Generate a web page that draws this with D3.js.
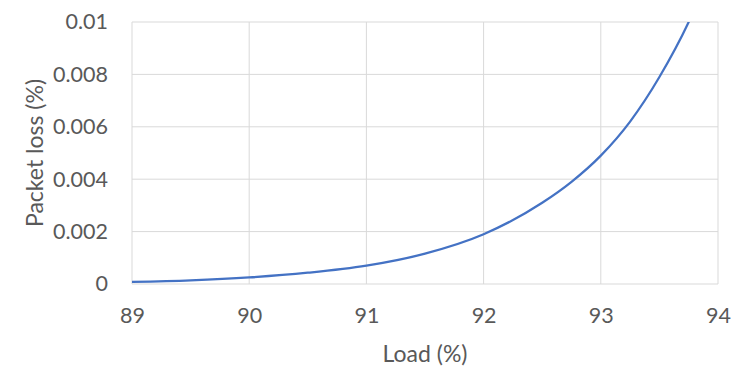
<!DOCTYPE html>
<html>
<head>
<meta charset="utf-8">
<script src="https://cdn.jsdelivr.net/npm/d3@7"></script>
<style>
  body { margin: 0; background: #fff; }
  text { font-family: Lato, "Open Sans", sans-serif; fill: #595959; }
</style>
</head>
<body>
<div class="container"></div>
<script>
// load (%) vs packet loss (%)
const load = [89, 89.5, 90, 90.5, 91, 91.5, 92, 92.5, 92.75, 93, 93.25, 93.5, 93.75, 93.85];
const loss = [0.00008, 0.00014, 0.00025, 0.00043, 0.0007, 0.00116, 0.0019, 0.0031, 0.0039, 0.0049, 0.0062, 0.0079, 0.0100, 0.0110];
const xTicks = [89, 90, 91, 92, 93, 94];
const yTicks = [0, 0.002, 0.004, 0.006, 0.008, 0.01];

const width = 747, height = 384;
const margin = {top: 22, right: 29, bottom: 100, left: 132};

const svg = d3.select('.container')
  .append('svg')
  .attr('width', width)
  .attr('height', height);

const x = d3.scaleLinear().domain([89, 94]).range([margin.left, width - margin.right]);
const y = d3.scaleLinear().domain([0, 0.01]).range([height - margin.bottom, margin.top]);

// gridlines
svg.append('g')
  .selectAll('line')
  .data(xTicks)
  .join('line')
  .attr('x1', d => x(d)).attr('x2', d => x(d))
  .attr('y1', y(0)).attr('y2', y(0.01))
  .attr('stroke', '#d9d9d9').attr('stroke-width', 1);

svg.append('g')
  .selectAll('line')
  .data(yTicks)
  .join('line')
  .attr('x1', x(89)).attr('x2', x(94))
  .attr('y1', d => y(d)).attr('y2', d => y(d))
  .attr('stroke', '#d9d9d9').attr('stroke-width', 1);

// clip so the curve stops at the top of the plot
svg.append('clipPath').attr('id', 'plot')
  .append('rect')
  .attr('x', x(89)).attr('y', y(0.01))
  .attr('width', x(94) - x(89)).attr('height', y(0) - y(0.01));

const line = d3.line()
  .x((d, i) => x(load[i]))
  .y(d => y(d))
  .curve(d3.curveMonotoneX);

svg.append('path')
  .datum(loss)
  .attr('clip-path', 'url(#plot)')
  .attr('fill', 'none')
  .attr('stroke', '#4472c4')
  .attr('stroke-width', 2.25)
  .attr('d', line);

// axis labels
const xAxis = svg.append('g')
  .attr('transform', `translate(0,${y(0)})`)
  .call(d3.axisBottom(x).tickValues(xTicks).tickSize(0).tickPadding(24).tickFormat(d3.format('d')));
xAxis.select('.domain').remove();
xAxis.selectAll('text').attr('font-size', 21.5).attr('font-family', 'Lato, sans-serif').attr('fill', '#595959');

const yAxis = svg.append('g')
  .attr('transform', `translate(${x(89)},0)`)
  .call(d3.axisLeft(y).tickValues(yTicks).tickSize(0).tickPadding(24).tickFormat(d => d === 0 ? '0' : String(+d.toFixed(3))));
yAxis.select('.domain').remove();
yAxis.selectAll('text').attr('font-size', 21.5).attr('font-family', 'Lato, sans-serif').attr('fill', '#595959');

svg.append('text')
  .attr('x', (x(89) + x(94)) / 2)
  .attr('y', 362)
  .attr('text-anchor', 'middle')
  .attr('font-size', 23)
  .text('Load (%)');

svg.append('text')
  .attr('transform', `translate(43,${(y(0) + y(0.01)) / 2}) rotate(-90)`)
  .attr('text-anchor', 'middle')
  .attr('font-size', 23)
  .text('Packet loss (%)');
</script>
</body>
</html>
